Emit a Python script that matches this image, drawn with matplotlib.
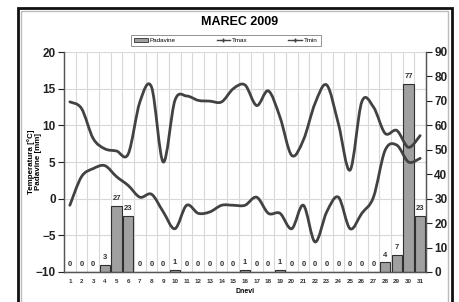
import numpy as np
import matplotlib
matplotlib.use("Agg")
import matplotlib.pyplot as plt
from matplotlib.path import Path
from matplotlib.patches import PathPatch, Rectangle, Patch
from matplotlib.lines import Line2D

plt.rcParams['font.family'] = ['Liberation Sans', 'DejaVu Sans']

days = list(range(1, 32))
day_labels = [str(d) for d in days]
tmax = [13.2, 12.3, 8.2, 6.8, 6.5, 6.1, 13.2, 15.2, 5.0, 13.4, 14.0,
        13.4, 13.3, 13.2, 15.0, 15.5, 12.7, 14.7, 11.1, 5.9, 8.0,
        13.0, 15.5, 10.2, 3.9, 13.2, 12.5, 8.9, 9.3, 7.0, 8.6]
tmin = [-0.9, 3.0, 4.1, 4.5, 3.0, 1.8, 0.2, 0.6, -1.8, -4.1, -0.9,
        -2.0, -1.8, -0.9, -0.9, -0.9, 0.2, -2.0, -2.0, -4.1, -0.9,
        -5.9, -1.8, 0.2, -4.1, -2.0, 0.2, 6.6, 7.3, 5.0, 5.5]
rain = [0, 0, 0, 3, 27, 23, 0, 0, 0, 1, 0, 0, 0, 0, 0, 1, 0, 0, 1, 0,
        0, 0, 0, 0, 0, 0, 0, 4, 7, 77, 23]

LINE_C = '#424242'
BAR_C = '#a0a0a0'
GRID_C = '#d8d8d8'

fig = plt.figure(figsize=(4.59, 3.02), dpi=100)
W, H = 459, 302
L, R, T, B = 64, 426, 52, 272
ax = fig.add_axes([L / W, 1 - B / H, (R - L) / W, (B - T) / H])
ax2 = ax.twinx()

# bars on secondary axis
ax2.bar(days, rain, width=0.9, color=BAR_C, edgecolor='#303030', linewidth=0.8, zorder=2)
for d, v in zip(days, rain):
    ax2.text(d, v + 1.5, str(v), ha='center', va='bottom', fontsize=5.5,
             fontweight='bold', color='#303030')
ax2.set_ylim(0, 90)
ax2.set_yticks(range(0, 91, 10))

# smooth lines (Catmull-Rom -> cubic Bezier)
def smooth_path(xs, ys):
    pts = np.column_stack([xs, ys]).astype(float)
    n = len(pts)
    verts = [pts[0]]
    codes = [Path.MOVETO]
    for i in range(n - 1):
        p0 = pts[i - 1] if i > 0 else pts[i]
        p1 = pts[i]
        p2 = pts[i + 1]
        p3 = pts[i + 2] if i + 2 < n else pts[i + 1]
        c1 = p1 + (p2 - p0) / 6.0
        c2 = p2 - (p3 - p1) / 6.0
        verts += [c1, c2, p2]
        codes += [Path.CURVE4] * 3
    return Path(verts, codes)

ax.set_zorder(ax2.get_zorder() + 1)
ax.patch.set_visible(False)
for ys in (tmax, tmin):
    ax.add_patch(PathPatch(smooth_path(days, ys), fill=False, edgecolor=LINE_C,
                           linewidth=2.0, zorder=3, capstyle='round', joinstyle='round'))

ax.set_xlim(0.5, 31.5)
ax.set_ylim(-10, 20)
ax.set_yticks(range(-10, 21, 5))
ax.set_xticks(days)
ax.set_xticklabels(day_labels)

# grid drawn on ax2 (behind bars)
for yv in range(-5, 21, 5):
    ax2.axhline((yv + 10) * 3, color=GRID_C, linewidth=0.8, zorder=0)
for xb in np.arange(1.5, 31.5, 1.0):
    ax2.axvline(xb, color=GRID_C, linewidth=0.8, zorder=0)

for a in (ax, ax2):
    a.spines['top'].set_visible(False)
    for s in ('left', 'right', 'bottom'):
        a.spines[s].set_color('#555555')
        a.spines[s].set_linewidth(0.9)
ax.tick_params(axis='y', labelsize=8.5, width=0.8, length=4, pad=2, colors='#222222')
ax2.tick_params(axis='y', labelsize=8.5, width=0.8, length=4, pad=2, colors='#222222')
ax.tick_params(axis='x', labelsize=4.5, length=0, pad=5, colors='#333333')
for lab in ax.get_yticklabels() + ax2.get_yticklabels() + ax.get_xticklabels():
    lab.set_fontweight('bold')

ax.set_ylabel('Temperatura [°C]\nPadavine [mm]', fontsize=5.8, fontweight='bold',
              linespacing=1.0)
ax.yaxis.set_label_coords((42 - L) / (R - L), 0.5)
ax.set_xlabel('Dnevi', fontsize=5, fontweight='bold', labelpad=3)

fig.text(240 / W, 1 - 22 / H, 'MAREC 2009', ha='center', va='center',
         fontsize=9, fontweight='bold')

handles = [Patch(facecolor=BAR_C, edgecolor='#303030', linewidth=0.6),
           Line2D([], [], color=LINE_C, linewidth=1.0, marker='+', markersize=3),
           Line2D([], [], color=LINE_C, linewidth=1.0, marker='+', markersize=3)]
leg = fig.legend(handles, ['Padavine', 'Tmax', 'Tmin'], loc='center',
                 bbox_to_anchor=(226 / W, 1 - 40.5 / H), ncol=3, fontsize=4.5,
                 frameon=True, fancybox=False, borderpad=0.5, columnspacing=6.5,
                 handlelength=2.2, handletextpad=0.3, handleheight=0.6)
leg.get_frame().set_edgecolor('#777777')
leg.get_frame().set_linewidth(0.7)

# outer frames
fig.patches.append(Rectangle((17.5 / W, -0.1), (451.5 - 17.5) / W, 1.1 - 8 / H,
                             transform=fig.transFigure, fill=False,
                             edgecolor='#111111', linewidth=2.0))
fig.patches.append(Rectangle((21 / W, -0.1), (448 - 21) / W, 1.1 - 11.5 / H,
                             transform=fig.transFigure, fill=False,
                             edgecolor='#bbbbbb', linewidth=1.0))

fig.savefig('out.png', dpi=100)
